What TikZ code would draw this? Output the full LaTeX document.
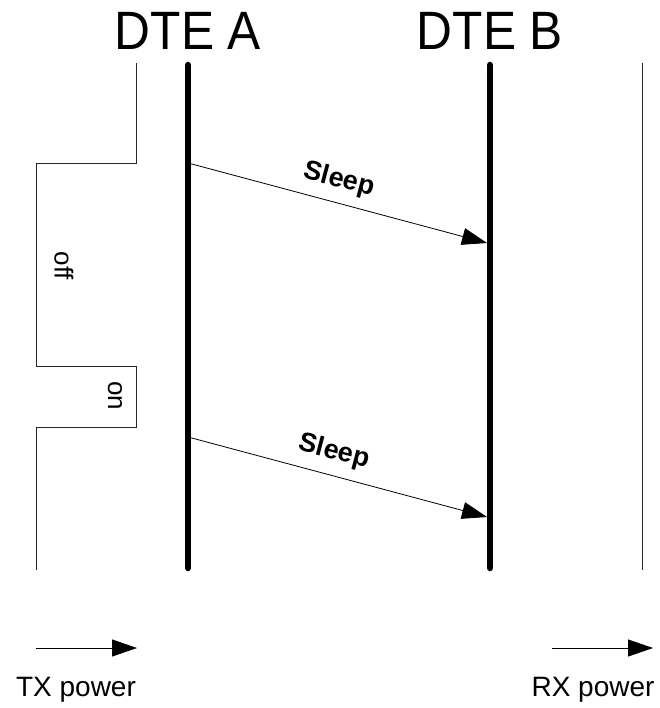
\documentclass[tikz,border=0pt]{standalone}
\usepackage{fontspec}
\setmainfont{Liberation Sans}
\usetikzlibrary{arrows.meta}
\begin{document}
\begin{tikzpicture}[x=1pt,y=-1pt,
  thin line/.style={line width=0.9pt,black!85},
  life/.style={line width=6.5pt,line cap=round},
  msg/.style={line width=0.8pt,-{Triangle[length=25pt,width=17pt]}},
  legendarrow/.style={line width=0.9pt,-{Triangle[length=25pt,width=17pt]}},
  title/.style={font=\fontsize{54}{56}\selectfont\addfontfeatures{FakeStretch=0.92}},
  lbl/.style={font=\fontsize{27}{29}\selectfont\bfseries,rotate=-14.8},
  state/.style={font=\fontsize{26}{28}\selectfont,rotate=-90},
  legend/.style={font=\fontsize{28}{30}\selectfont}]
\useasboundingbox (0,0) rectangle (659,708);
% titles
\node[title] (ta) at (188,31) {DTE A};
\node[title] (tb) at (490,31) {DTE B};
% lifelines
\coordinate (a1) at (188,65);
\coordinate (a2) at (188,568);
\coordinate (b1) at (490,65);
\coordinate (b2) at (490,568);
\draw[life] (a1) -- (a2);
\draw[life] (b1) -- (b2);
\coordinate (r1) at (642,63);
\coordinate (r2) at (642,570);
\draw[thin line] (r1) -- (r2);
% TX power waveform
\draw[thin line] (136,63) -- (136,163) -- (36,163) -- (36,366) -- (136,366) -- (136,427) -- (36,427) -- (36,570);
\node[state] (off) at (64,266) {off};
\node[state] (on) at (115,396) {on};
% messages
\coordinate (m1s) at (188,163);
\coordinate (m1e) at (487,243);
\coordinate (m2s) at (188,437);
\coordinate (m2e) at (487,517);
\draw[msg] (m1s) -- (m1e);
\draw[msg] (m2s) -- (m2e);
\node[lbl] (s1) at (339,180) {Sleep};
\node[lbl] (s2) at (334,452) {Sleep};
% legends
\coordinate (tx1) at (36,648);
\coordinate (tx2) at (137,648);
\coordinate (rx1) at (552,648);
\coordinate (rx2) at (653,648);
\draw[legendarrow] (tx1) -- (tx2);
\draw[legendarrow] (rx1) -- (rx2);
\node[legend] (txl) at (76,690) {TX power};
\node[legend] (rxl) at (593,690) {RX power};
\end{tikzpicture}
\end{document}
